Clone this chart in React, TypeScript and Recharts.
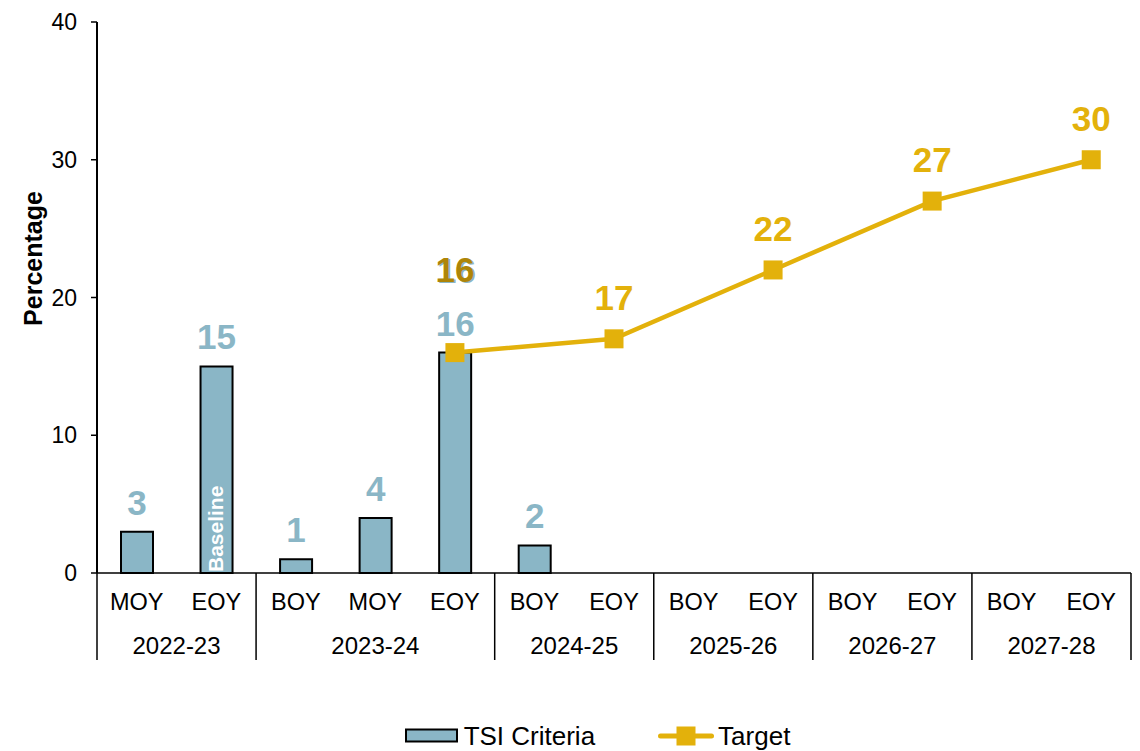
import {
  ComposedChart,
  Bar,
  Line,
  XAxis,
  YAxis,
  Legend,
  LabelList,
} from "recharts";

const categories = ["MOY", "EOY", "BOY", "MOY", "EOY", "BOY", "EOY", "BOY", "EOY", "BOY", "EOY", "BOY", "EOY"];
const years = ["2022-23", "2022-23", "2023-24", "2023-24", "2023-24", "2024-25", "2024-25", "2025-26", "2025-26", "2026-27", "2026-27", "2027-28", "2027-28"];
const tsiCriteria = [3, 15, 1, 4, 16, 2, null, null, null, null, null, null, null];
const targetValues = [null, null, null, null, 16, null, 17, null, 22, null, 27, null, 30];
const yTicks = [0, 10, 20, 30, 40];

const BAR_COLOR = "#8AB6C6";
const TARGET_COLOR = "#E3B10B";
const FONT = "Arial, 'Liberation Sans', Helvetica, sans-serif";

const CHART_W = 1140;
const CHART_H = 751;
const Y_AXIS_W = 97;
const MARGIN_RIGHT = 9;
const PLOT_W = CHART_W - Y_AXIS_W - MARGIN_RIGHT;
const BAND = PLOT_W / categories.length;

const data = categories.map((c, i) => ({
  key: `${years[i]} ${c}`,
  cat: c,
  year: years[i],
  tsi: tsiCriteria[i],
  target: targetValues[i],
}));

const CategoryTick = ({ x, y, payload }: any) => {
  const i = payload.index;
  const year = years[i];
  const first = i === 0 || years[i - 1] !== year;
  const last = i === years.length - 1;
  let size = 0;
  if (first) {
    for (let j = i; j < years.length && years[j] === year; j++) size++;
  }
  const left = x - BAND / 2;
  return (
    <g>
      <text x={x} y={y + 37} textAnchor="middle" fontSize={23.5} fontFamily={FONT} fill="#000">
        {categories[i]}
      </text>
      {first && (
        <>
          <line x1={left} x2={left} y1={y} y2={y + 87} stroke="#000" strokeWidth={1.5} />
          <text x={left + (size * BAND) / 2} y={y + 81} textAnchor="middle" fontSize={24} fontFamily={FONT} fill="#000">
            {year}
          </text>
        </>
      )}
      {last && <line x1={x + BAND / 2} x2={x + BAND / 2} y1={y} y2={y + 87} stroke="#000" strokeWidth={1.5} />}
    </g>
  );
};

const BarLabel = (props: any) => {
  const { x, y, width, height, value, index } = props;
  if (value == null) return null;
  const cx = x + width / 2;
  const bx = cx + 6.5;
  const by = y + height - 1;
  return (
    <g>
      <text x={cx} y={y - 17} textAnchor="middle" fontSize={35} fontWeight="bold" fontFamily={FONT} fill={BAR_COLOR}>
        {value}
      </text>
      {index === 1 && (
        <text x={bx} y={by} transform={`rotate(-90, ${bx}, ${by})`} fontSize={21} fontWeight="bold" fontFamily={FONT} fill="#fff">
          Baseline
        </text>
      )}
    </g>
  );
};

const TargetLabel = (props: any) => {
  const { x, y, value, index } = props;
  if (value == null) return null;
  if (index === 4) {
    return (
      <g>
        <text x={x + 1.5} y={y - 69.5} textAnchor="middle" fontSize={35} fontWeight="bold" fontFamily={FONT} fill={BAR_COLOR}>
          {value}
        </text>
        <text x={x} y={y - 71} textAnchor="middle" fontSize={35} fontWeight="bold" fontFamily={FONT} fill="#AE8508">
          {value}
        </text>
      </g>
    );
  }
  return (
    <text x={x} y={y - 29} textAnchor="middle" fontSize={35} fontWeight="bold" fontFamily={FONT} fill={TARGET_COLOR}>
      {value}
    </text>
  );
};

const SquareDot = (props: any) => {
  const { cx, cy, value } = props;
  if (value == null || cx == null || cy == null) return null;
  return <rect x={cx - 9.5} y={cy - 9.5} width={19} height={19} fill={TARGET_COLOR} />;
};

const LegendContent = () => (
  <div style={{ display: "flex", justifyContent: "center", alignItems: "center", fontFamily: FONT, fontSize: 26, color: "#000", paddingLeft: 64, lineHeight: "30px" }}>
    <svg width={54} height={16} style={{ marginRight: 5 }}>
      <rect x={1} y={1.5} width={51} height={12} fill={BAR_COLOR} stroke="#000" strokeWidth={2} />
    </svg>
    <span style={{ marginRight: 63 }}>TSI Criteria</span>
    <svg width={56} height={20} style={{ marginRight: 4 }}>
      <line x1={2.5} x2={53.5} y1={10} y2={10} stroke={TARGET_COLOR} strokeWidth={5} strokeLinecap="round" />
      <rect x={18.5} y={0.5} width={19} height={19} fill={TARGET_COLOR} />
    </svg>
    <span>Target</span>
  </div>
);

const YLabel = (props: any) => {
  const { viewBox } = props;
  const cx = viewBox.x + 33;
  const cy = viewBox.y + viewBox.height / 2 - 39;
  return (
    <text
      x={cx}
      y={cy}
      transform={`rotate(-90, ${cx}, ${cy})`}
      textAnchor="middle"
      dominantBaseline="central"
      fontSize={25}
      fontWeight="bold"
      fontFamily={FONT}
      fill="#000"
    >
      Percentage
    </text>
  );
};

export default function App() {
  return (
    <div style={{ position: "absolute", left: 0, top: 0, background: "#fff" }}>
      <ComposedChart
        width={CHART_W}
        height={CHART_H}
        data={data}
        margin={{ top: 22, right: MARGIN_RIGHT, left: 0, bottom: 58 }}
      >
        <XAxis
          dataKey="key"
          interval={0}
          tickLine={false}
          tickSize={0}
          tickMargin={0}
          height={90}
          axisLine={{ stroke: "#000", strokeWidth: 1.5 }}
          tick={<CategoryTick />}
        />
        <YAxis
          width={Y_AXIS_W}
          domain={[0, 40]}
          ticks={yTicks}
          interval={0}
          tickSize={6}
          tickMargin={14}
          axisLine={{ stroke: "#000", strokeWidth: 2 }}
          tickLine={{ stroke: "#000", strokeWidth: 1.5 }}
          tick={{ fill: "#000", fontSize: 23, fontFamily: FONT }}
          label={<YLabel />}
        />
        <Legend verticalAlign="bottom" height={30} wrapperStyle={{ bottom: 0 }} content={<LegendContent />} />
        <Bar dataKey="tsi" name="TSI Criteria" fill={BAR_COLOR} stroke="#000" strokeWidth={2} barSize={32} isAnimationActive={false}>
          <LabelList dataKey="tsi" content={<BarLabel />} />
        </Bar>
        <Line
          dataKey="target"
          name="Target"
          stroke={TARGET_COLOR}
          strokeWidth={4.5}
          connectNulls
          dot={<SquareDot />}
          activeDot={false}
          isAnimationActive={false}
        >
          <LabelList dataKey="target" content={<TargetLabel />} />
        </Line>
      </ComposedChart>
    </div>
  );
}
